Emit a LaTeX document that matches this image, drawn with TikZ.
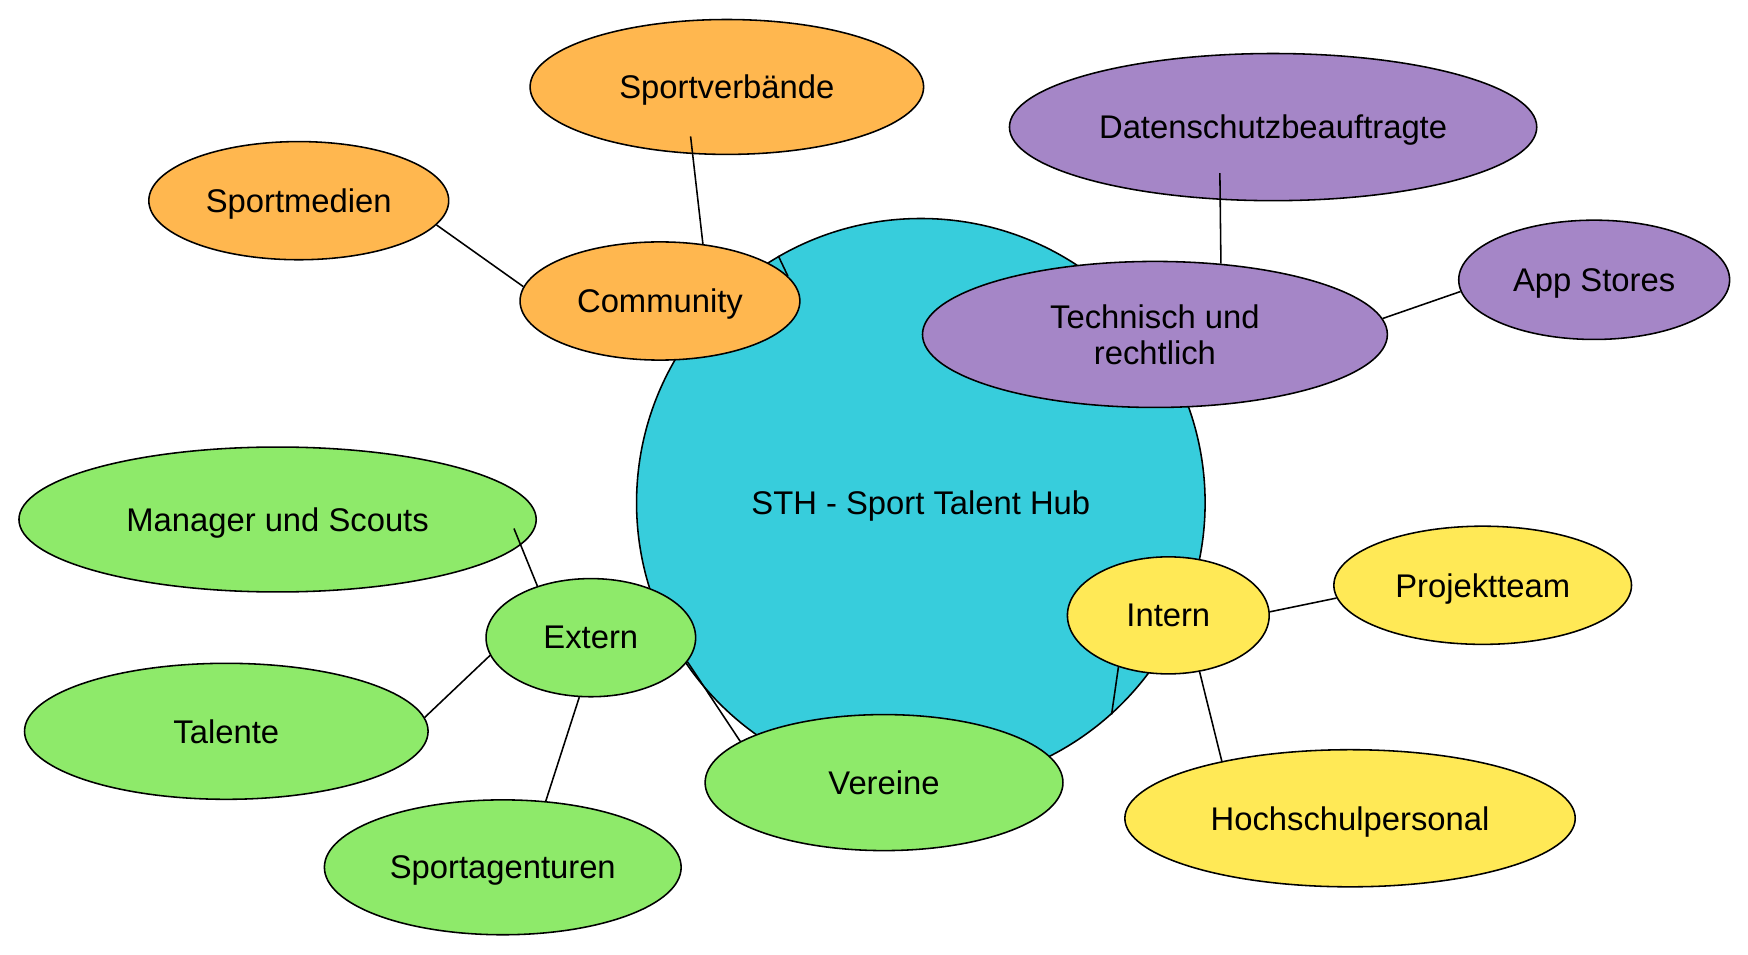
\documentclass[tikz,border=0pt]{standalone}
\usepackage{fontspec}
\setmainfont{Liberation Sans}
\usetikzlibrary{shapes.geometric}
\definecolor{hubCyan}{HTML}{37CDDC}
\definecolor{commOrange}{HTML}{FFB74F}
\definecolor{techPurple}{HTML}{A586C7}
\definecolor{extGreen}{HTML}{8EEA6A}
\definecolor{intYellow}{HTML}{FFE956}

\begin{document}
\begin{tikzpicture}[x=0.5pt,y=-0.5pt,
    bubble/.style={ellipse,draw=black,line width=0.7pt,inner sep=0pt,align=center,
      text depth=0pt,font=\fontsize{14.7}{16}\selectfont},
    link/.style={draw=black,line width=0.7pt}]
  \useasboundingbox (0,0) rectangle (1568,856);
  % centre
  \node[bubble,circle,fill=hubCyan,minimum size=255pt] (sth) at (826,451) {STH - Sport Talent Hub};
  % community branch
  \node[bubble,fill=commOrange,minimum width=176.5pt,minimum height=60.5pt] (sv) at (652,78) {Sportverbände};
  \node[bubble,fill=commOrange,minimum width=134.5pt,minimum height=53pt] (smed) at (268,180) {Sportmedien};
  \node[bubble,fill=commOrange,minimum width=125.5pt,minimum height=53pt] (comm) at (592,270) {Community};
  % technical branch
  \node[bubble,fill=techPurple,minimum width=236.5pt,minimum height=66pt] (ds) at (1142,114) {Datenschutzbeauftragte};
  \node[bubble,fill=techPurple,minimum width=121.5pt,minimum height=53.5pt] (app) at (1430,251) {App Stores};
  \node[bubble,fill=techPurple,minimum width=208.5pt,minimum height=65.5pt] (tech) at (1036,300) {Technisch und\\rechtlich};
  % external branch
  \node[bubble,fill=extGreen,minimum width=232pt,minimum height=65pt] (mgr) at (249,466) {Manager und Scouts};
  \node[bubble,fill=extGreen,minimum width=181pt,minimum height=61pt] (tal) at (203,656) {Talente};
  \node[bubble,fill=extGreen,minimum width=160pt,minimum height=60.5pt] (sa) at (451,778) {Sportagenturen};
  \node[bubble,fill=extGreen,minimum width=160.5pt,minimum height=61pt] (ver) at (793,702) {Vereine};
  \node[bubble,fill=extGreen,minimum width=94pt,minimum height=53pt] (ext) at (530,572) {Extern};
  % internal branch
  \node[bubble,fill=intYellow,minimum width=133.5pt,minimum height=53pt] (proj) at (1330,525) {Projektteam};
  \node[bubble,fill=intYellow,minimum width=202pt,minimum height=61.5pt] (hoch) at (1211,734) {Hochschulpersonal};
  \node[bubble,fill=intYellow,minimum width=90.5pt,minimum height=52.5pt] (int) at (1048,552) {Intern};
  % connectors
  \draw[link] (sth.120) -- (comm.11);
  \draw[link] (smed.-10) -- (comm.174);
  \draw[link,shorten <=-8pt] (sv.243) -- (comm.53);
  \draw[link,shorten <=-12pt] (ds.234) -- (tech.47);
  \draw[link] (tech.4) -- (app.185);
  \draw[link,shorten <=-8pt] (mgr.-6) -- (ext.136);
  \draw[link] (tal.4) -- (ext.190);
  \draw[link] (sa.57) -- (ext.259);
  \draw[link] (ext.-14) -- (ver.164);
  \draw[link] (int.2) -- (proj.185);
  \draw[link] (int.299) -- (hoch.156);
  \draw[link] (sth.312) -- (int.226);
\end{tikzpicture}
\end{document}
